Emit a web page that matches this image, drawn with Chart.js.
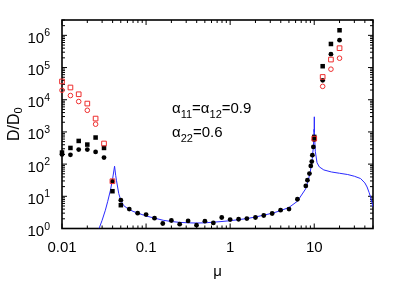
<!DOCTYPE html>
<html>
<head>
<meta charset="utf-8">
<script src="https://cdn.jsdelivr.net/npm/chart.js@4.4.1/dist/chart.umd.min.js"></script>
<style>
  html, body { margin: 0; padding: 0; background: #fff; }
  #wrap { width: 403px; height: 283px; }
</style>
</head>
<body>
<div id="wrap"><canvas id="c"></canvas></div>
<script>
const FONT = '"Liberation Sans", Arial, sans-serif';

// axis ticks
const xTickValues = [0.01, 0.1, 1, 10];
const xTickLabels = ['0.01', '0.1', '1', '10'];
const yTickValues = [1, 10, 100, 1e3, 1e4, 1e5, 1e6];
const yTickExps = ['0', '1', '2', '3', '4', '5', '6'];
const minorMults = [2, 3, 4, 5, 6, 7, 8, 9];

// black filled circles
const circX = [0.01, 0.0126, 0.0158, 0.02, 0.0251, 0.0316, 0.0398, 0.0501, 0.0631, 0.0794,
  0.1, 0.126, 0.158, 0.2, 0.251, 0.316, 0.398, 0.501, 0.631, 0.794,
  1, 1.26, 1.58, 2, 2.51, 3.16, 3.98, 5.01, 6.31, 7.94,
  8.3, 8.77, 9.1, 9.35, 9.5, 9.77, 10, 12.6, 15.8, 20];
const circY = [200, 195, 284, 284, 240, 160, 29, 7.6, 4.0, 3.0,
  2.7, 2.09, 1.43, 1.77, 1.36, 1.72, 1.27, 1.69, 1.49, 2.2,
  1.9, 1.94, 2.04, 2.2, 2.53, 2.92, 3.7, 4.0, 8.1, 21,
  31.6, 51, 88, 120, 189, 342, 580, 4.0e4, 2.6e5, 7.1e5];

// black filled squares
const sqX = [0.01, 0.0126, 0.0158, 0.02, 0.0251, 0.0316, 0.0398, 0.0501, 10, 12.6, 15.8, 20];
const sqY = [229, 318, 525, 405, 670, 318, 14.4, 5.3, 700, 1.1e5, 5.4e5, 1.44e6];

// red open squares
const rsqX = [0.01, 0.0126, 0.0158, 0.02, 0.0251, 0.0316, 0.0398, 10, 12.6, 15.8, 20];
const rsqY = [3.7e4, 2.4e4, 1.48e4, 7.6e3, 2.6e3, 437, 29.4, 620, 5.1e4, 1.77e5, 4.0e5];

// red open circles
const rcX = [0.01, 0.0126, 0.0158, 0.02, 0.0251, 12.6, 15.8, 20];
const rcY = [1.97e4, 1.35e4, 8.8e3, 4.7e3, 1.74e3, 2.6e4, 8.9e4, 1.95e5];

// blue theory curve
const lineX = [0.0276, 0.03, 0.0328, 0.035, 0.0377, 0.04, 0.0422, 0.0435, 0.0444, 0.0473,
  0.05, 0.054, 0.06, 0.07, 0.08, 0.1, 0.126, 0.16, 0.2, 0.25,
  0.32, 0.4, 0.5, 0.63, 0.8, 1, 1.26, 1.6, 2, 2.5,
  3.2, 4, 5, 6.3, 7.9, 8.5, 9, 9.5, 9.8, 9.95,
  10, 10.05, 10.3, 10.8, 11.5, 13, 16, 20, 25, 30,
  35.6, 40, 42.5, 45, 46.7, 48.5, 50];
const lineY = [1, 1.8, 3.7, 7, 15.5, 35, 86, 45, 31.6, 12.2,
  7.5, 5.2, 4.2, 3.4, 3.0, 2.45, 2.1, 1.8, 1.65, 1.55,
  1.5, 1.48, 1.5, 1.57, 1.65, 1.75, 1.88, 2.05, 2.27, 2.6,
  3.0, 3.6, 4.5, 7, 17, 32, 60, 150, 400, 1200,
  2950, 1000, 250, 110, 82, 66, 57, 52, 47.5, 42,
  35.6, 26, 19.5, 13, 9.6, 6.5, 4.7];

const pts = (xs, ys) => xs.map((x, i) => ({ x, y: ys[i] }));

const RED = 'rgb(238,45,45)';

const frame = {
  id: 'frame',
  beforeDatasetsDraw(chart) {
    const { ctx, chartArea: a, scales: { x, y } } = chart;
    ctx.save();
    ctx.strokeStyle = '#000';
    ctx.lineWidth = 1;
    ctx.beginPath();
    const xs = [...xTickValues.map((v) => [v, 5])];
    xTickValues.forEach((d) => minorMults.forEach((m) => {
      if (d * m <= x.max) xs.push([d * m, 3]);
    }));
    xs.forEach(([v, len]) => {
      const p = x.getPixelForValue(v);
      ctx.moveTo(p, a.bottom); ctx.lineTo(p, a.bottom - len);
      ctx.moveTo(p, a.top); ctx.lineTo(p, a.top + len);
    });
    const ys = [...yTickValues.map((v) => [v, 5])];
    yTickValues.forEach((d) => minorMults.forEach((m) => {
      if (d * m <= y.max) ys.push([d * m, 3]);
    }));
    ys.forEach(([v, len]) => {
      const p = y.getPixelForValue(v);
      ctx.moveTo(a.left, p); ctx.lineTo(a.left + len, p);
      ctx.moveTo(a.right, p); ctx.lineTo(a.right - len, p);
    });
    ctx.stroke();
    ctx.lineWidth = 1.6;
    ctx.strokeRect(a.left, a.top, a.right - a.left, a.bottom - a.top);
    ctx.restore();
  },
  afterDraw(chart) {
    const { ctx, chartArea: a, scales: { x, y } } = chart;
    ctx.save();
    ctx.fillStyle = '#000';
    ctx.textBaseline = 'alphabetic';

    // x tick labels
    ctx.font = `15px ${FONT}`;
    ctx.textAlign = 'center';
    xTickValues.forEach((v, i) => {
      ctx.fillText(xTickLabels[i], x.getPixelForValue(v), a.bottom + 23);
    });

    // y tick labels 10^n
    ctx.textAlign = 'left';
    yTickValues.forEach((v, i) => {
      const p = y.getPixelForValue(v);
      ctx.font = `15px ${FONT}`;
      const w1 = ctx.measureText('10').width;
      ctx.font = `10.5px ${FONT}`;
      const w2 = ctx.measureText(yTickExps[i]).width;
      const right = a.left - 12;
      ctx.font = `15px ${FONT}`;
      ctx.fillText('10', right - w1 - w2, p + 7.5);
      ctx.font = `10.5px ${FONT}`;
      ctx.fillText(yTickExps[i], right - w2, p + 1);
    });

    // x title
    ctx.font = `15px ${FONT}`;
    ctx.textAlign = 'center';
    ctx.fillText('μ', (a.left + a.right) / 2, a.bottom + 47);

    // y title D/D0 rotated
    ctx.save();
    ctx.translate(a.left - 43.5, (a.top + a.bottom) / 2);
    ctx.rotate(-Math.PI / 2);
    ctx.textAlign = 'left';
    ctx.font = `16px ${FONT}`;
    const wd = ctx.measureText('D/D').width;
    ctx.font = `11px ${FONT}`;
    const ws = ctx.measureText('0').width;
    const x0 = -(wd + ws) / 2;
    ctx.font = `16px ${FONT}`;
    ctx.fillText('D/D', x0, 0);
    ctx.font = `11px ${FONT}`;
    ctx.fillText('0', x0 + wd, 3.5);
    ctx.restore();

    // annotation with subscripts
    const runs = (parts, sx, base) => {
      let cx = sx;
      ctx.textAlign = 'left';
      parts.forEach(([t, sub]) => {
        ctx.font = sub ? `11px ${FONT}` : `15px ${FONT}`;
        ctx.fillText(t, cx, sub ? base + 5 : base);
        cx += ctx.measureText(t).width;
      });
    };
    runs([['α'], ['11', 1], ['=α'], ['12', 1], ['=0.9']], a.left + 110, a.top + 93.3);
    runs([['α'], ['22', 1], ['=0.6']], a.left + 110, a.top + 116.7);
    ctx.restore();
  },
};

new Chart(document.getElementById('c'), {
  type: 'scatter',
  data: {
    datasets: [
      {
        label: 'theory',
        type: 'line',
        data: pts(lineX, lineY),
        borderColor: '#2a2aff',
        borderWidth: 1,
        pointRadius: 0,
        tension: 0,
        fill: false,
        order: 5,
      },
      {
        label: 'circles',
        data: pts(circX, circY),
        pointStyle: 'circle',
        pointRadius: 2.4,
        backgroundColor: '#000',
        borderWidth: 0,
        clip: false,
        order: 4,
      },
      {
        label: 'squares',
        data: pts(sqX, sqY),
        pointStyle: 'rect',
        pointRadius: 3.2,
        backgroundColor: '#000',
        borderWidth: 0,
        clip: false,
        order: 3,
      },
      {
        label: 'red circles',
        data: pts(rcX, rcY),
        pointStyle: 'circle',
        pointRadius: 2.3,
        backgroundColor: 'rgba(0,0,0,0)',
        borderColor: RED,
        borderWidth: 1,
        clip: false,
        order: 2,
      },
      {
        label: 'red squares',
        data: pts(rsqX, rsqY),
        pointStyle: 'rect',
        pointRadius: 3.3,
        backgroundColor: 'rgba(0,0,0,0)',
        borderColor: RED,
        borderWidth: 1,
        clip: false,
        order: 1,
      },
    ],
  },
  options: {
    responsive: true,
    maintainAspectRatio: false,
    animation: false,
    devicePixelRatio: 1,
    events: [],
    layout: { padding: { top: 20, right: 30, left: 0, bottom: 0 } },
    plugins: { legend: { display: false }, tooltip: { enabled: false } },
    scales: {
      x: {
        type: 'logarithmic',
        min: 0.01,
        max: 50,
        grid: { display: false, drawTicks: false },
        border: { display: false },
        ticks: { display: false },
        afterFit: (s) => { s.height = 54.5; },
      },
      y: {
        type: 'logarithmic',
        min: 1,
        max: 3e6,
        grid: { display: false, drawTicks: false },
        border: { display: false },
        ticks: { display: false },
        afterFit: (s) => { s.width = 62; },
      },
    },
  },
  plugins: [frame],
});
</script>
</body>
</html>
